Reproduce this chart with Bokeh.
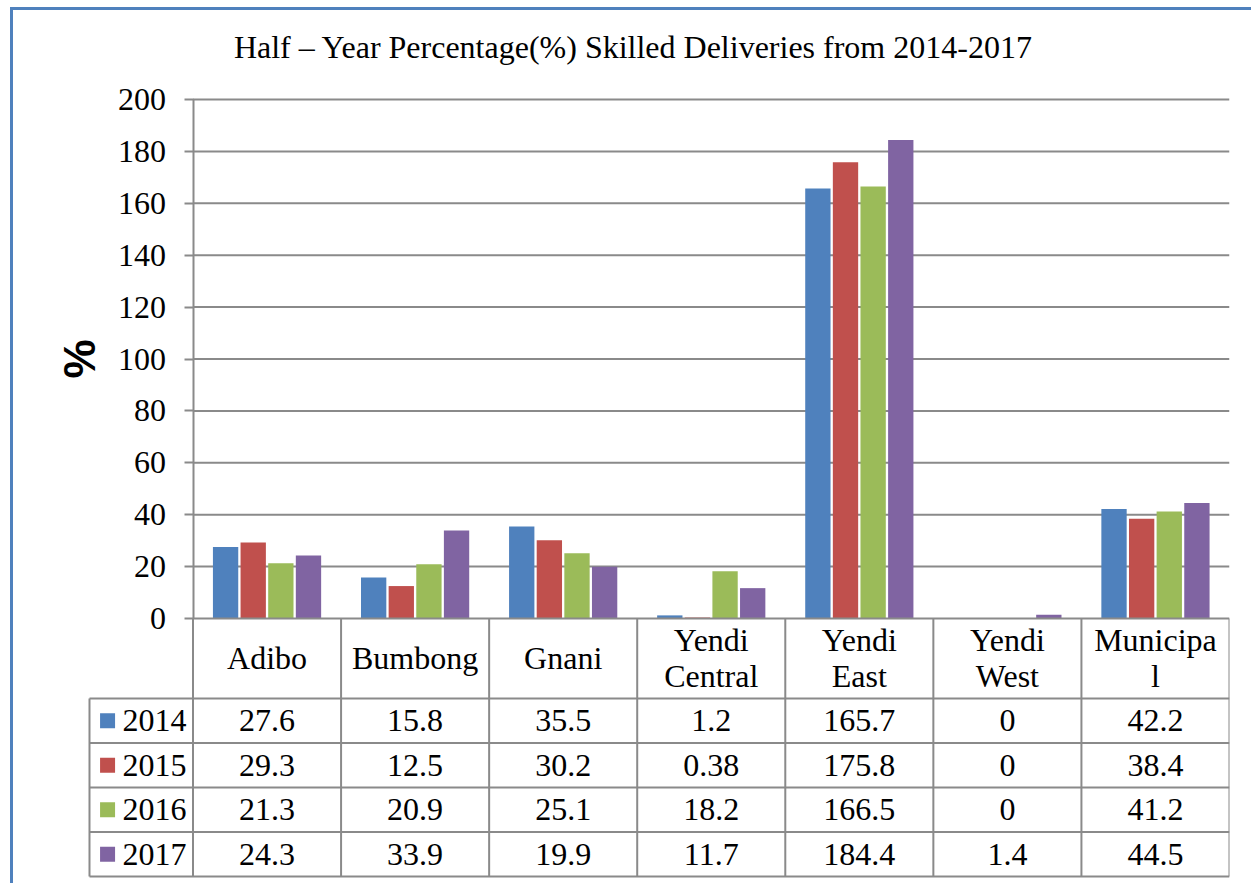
from bokeh.plotting import figure
from bokeh.models import Range1d, FixedTicker, LinearAxis
from bokeh.core.properties import value
from bokeh.embed import file_html
from bokeh.resources import INLINE

# ---------------- data ----------------
title_text = "Half – Year Percentage(%) Skilled Deliveries from 2014-2017"
categories = ["Adibo", "Bumbong", "Gnani", "Yendi\nCentral", "Yendi\nEast", "Yendi\nWest", "Municipa\nl"]
years = ["2014", "2015", "2016", "2017"]
v2014 = [27.6, 15.8, 35.5, 1.2, 165.7, 0, 42.2]
v2015 = [29.3, 12.5, 30.2, 0.38, 175.8, 0, 38.4]
v2016 = [21.3, 20.9, 25.1, 18.2, 166.5, 0, 41.2]
v2017 = [24.3, 33.9, 19.9, 11.7, 184.4, 1.4, 44.5]
y_ticks = [0, 20, 40, 60, 80, 100, 120, 140, 160, 180, 200]
y_label = "%"

series = [v2014, v2015, v2016, v2017]
colors = ["#4F81BD", "#C0504D", "#9BBB59", "#8064A2"]

# ---------------- style / layout constants ----------------
SERIF = "Liberation Serif"
FS = "32px"
GRID = "#8a8a8a"
n = len(categories)
nr = len(years)

W, H = 1241, 876              # figure size (inside the blue frame)
FRAME_H = H - 8               # plot frame height (px)
PX_X = 1036.5 / n             # px per category
PX_Y = 519.0 / y_ticks[-1]    # px per y unit
X0 = -179.5 / PX_X            # left edge of the frame, in category units
Y1 = y_ticks[-1] + 89 / PX_Y  # top edge of the frame
Y0 = Y1 - FRAME_H / PX_Y      # bottom edge of the frame

L = 0.699        # legend column width, in category widths
HDR = 30.8       # header row height, in y units
ROW = 17.15      # data row height, in y units
TB = -(HDR + nr * ROW)   # table bottom

p = figure(width=W, height=H, x_range=Range1d(X0, n), y_range=Range1d(Y0, Y1),
           output_backend="svg", toolbar_location=None,
           x_axis_location=None, y_axis_location=None,
           min_border_left=0, min_border_right=25, min_border_top=0, min_border_bottom=8)
p.outline_line_color = None
for g in p.grid:
    g.visible = False

# title
p.text(x=[(633 - 192.5) / PX_X], y=[y_ticks[-1] + (99 - 46) / PX_Y], text=[title_text],
       text_align="center", text_baseline="alphabetic", text_font=value(SERIF),
       text_font_size=FS, text_color="black")

# y axis at x = 0 (left edge of the first category)
yax = LinearAxis(fixed_location=0, ticker=FixedTicker(ticks=y_ticks),
                 bounds=(y_ticks[0], y_ticks[-1]))
yax.minor_tick_line_color = None
yax.major_tick_in = 0
yax.major_tick_out = 9
yax.major_tick_line_color = GRID
yax.major_tick_line_width = 2
yax.axis_line_color = GRID
yax.axis_line_width = 2
yax.major_label_text_font = SERIF
yax.major_label_text_font_size = FS
yax.major_label_text_color = "black"
yax.major_label_standoff = 18
yax.axis_label = y_label
yax.axis_label_text_font = "Liberation Sans"
yax.axis_label_text_font_style = "bold"
yax.axis_label_text_font_size = "44px"
yax.axis_label_text_color = "black"
yax.axis_label_standoff = 12
p.add_layout(yax, "left")

# horizontal gridlines
gt = y_ticks[1:]
p.segment(x0=[0] * len(gt), y0=gt, x1=[n] * len(gt), y1=gt, line_color=GRID, line_width=2)

# bars
slot = 0.1866
bw = 0.171
for k, (vals, c) in enumerate(zip(series, colors)):
    xs = [i + 0.5 + (k - 1.5) * slot for i in range(n)]
    p.vbar(x=xs, top=vals, bottom=0, width=bw, fill_color=c, line_color=None)

# ---------------- data table ----------------
vx = list(range(n + 1))
p.segment(x0=vx, y0=[TB] * len(vx), x1=vx, y1=[0] * len(vx), line_color=GRID, line_width=2)
p.segment(x0=[-L], y0=[TB], x1=[-L], y1=[-HDR], line_color=GRID, line_width=2)
p.segment(x0=[0], y0=[0], x1=[n], y1=[0], line_color=GRID, line_width=2)
hy = [-HDR - j * ROW for j in range(nr + 1)]
p.segment(x0=[-L] * len(hy), y0=hy, x1=[n] * len(hy), y1=hy, line_color=GRID, line_width=2)

p.text(x=[i + 0.5 for i in range(n)], y=[-HDR / 2] * n, text=categories,
       text_align="center", text_baseline="middle", text_font=value(SERIF),
       text_font_size=FS, text_color="black", text_line_height=1.0)

for k, vals in enumerate(series):
    p.text(x=[i + 0.5 for i in range(n)], y=[-HDR - (k + 0.5) * ROW] * n,
           text=[f"{v:g}" for v in vals],
           text_align="center", text_baseline="middle", text_font=value(SERIF),
           text_font_size=FS, text_color="black")

row_y = [-HDR - (k + 0.5) * ROW for k in range(nr)]
p.scatter(x=[-0.577] * nr, y=row_y, marker="square", size=15, fill_color=colors, line_color=None)
p.text(x=[-0.476] * nr, y=row_y, text=years,
       text_align="left", text_baseline="middle", text_font=value(SERIF),
       text_font_size=FS, text_color="black")

p.styles = {"border-left": "3px solid #4F81BD", "border-top": "3px solid #4F81BD",
            "margin-left": "10px", "margin-top": "7px"}

open("out.html", "w").write(file_html(p, INLINE))
